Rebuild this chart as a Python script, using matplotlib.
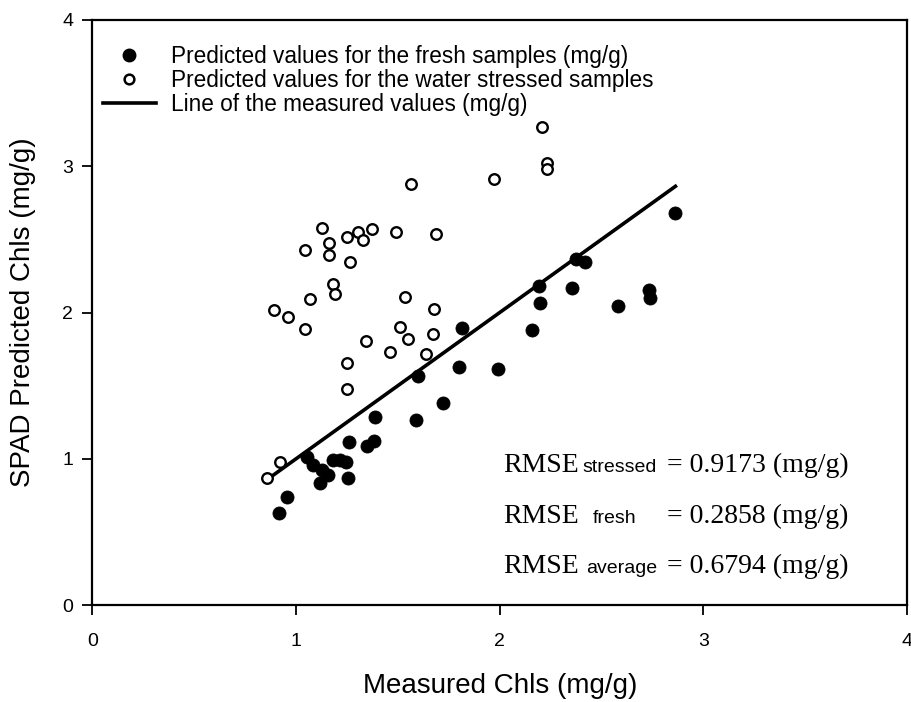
import matplotlib
matplotlib.use("Agg")
import matplotlib.pyplot as plt
from matplotlib.lines import Line2D

# Fresh samples: measured vs SPAD-predicted chlorophyll (mg/g)
fresh_measured = [0.917, 0.957, 1.052, 1.085, 1.126, 1.117, 1.158, 1.183, 1.216, 1.245,
                  1.257, 1.261, 1.347, 1.383, 1.386, 1.587, 1.600, 1.723, 1.800, 1.816,
                  1.993, 2.160, 2.193, 2.200, 2.355, 2.375, 2.419, 2.583, 2.732, 2.740,
                  2.861]
fresh_predicted = [0.627, 0.736, 1.014, 0.957, 0.923, 0.832, 0.889, 0.991, 0.991, 0.980,
                   0.866, 1.112, 1.087, 1.123, 1.288, 1.265, 1.566, 1.383, 1.630, 1.892,
                   1.611, 1.880, 2.183, 2.065, 2.165, 2.364, 2.348, 2.047, 2.154, 2.097,
                   2.678]

# Water-stressed samples
stressed_measured = [1.565, 1.126, 1.042, 1.160, 1.160, 1.250, 1.306, 1.327, 1.373, 1.491,
                     1.689, 1.263, 1.183, 1.193, 1.070, 0.890, 0.959, 1.045, 1.535, 1.679,
                     1.510, 1.548, 1.674, 1.343, 1.463, 1.637, 1.250, 1.250, 0.921, 0.859,
                     2.209, 2.231, 2.231, 1.974]
stressed_predicted = [2.877, 2.580, 2.430, 2.477, 2.393, 2.516, 2.553, 2.496, 2.569, 2.551,
                      2.539, 2.343, 2.195, 2.124, 2.095, 2.019, 1.967, 1.885, 2.104, 2.026,
                      1.901, 1.819, 1.851, 1.805, 1.730, 1.714, 1.652, 1.475, 0.980, 0.866,
                      3.271, 3.020, 2.979, 2.915]

# Reference line y = x over the measured range
line_x = [0.86, 2.87]
line_y = [0.86, 2.87]

ticks = [0, 1, 2, 3, 4]
tick_labels = ["0", "1", "2", "3", "4"]

rmse_names = ["stressed", "fresh", "average"]
rmse_values = [0.9173, 0.2858, 0.6794]

SANS = ["Liberation Sans", "DejaVu Sans"]
SERIF = ["Liberation Serif", "DejaVu Serif"]
plt.rcParams["font.family"] = SANS

fig = plt.figure(figsize=(9.12, 7.02), dpi=100)
ax = fig.add_axes([92.5 / 912, 97 / 702, 814.5 / 912, 585 / 702])

ax.plot(line_x, line_y, color="black", lw=2.6, solid_capstyle="butt", zorder=2)
ax.plot(fresh_measured, fresh_predicted, ls="none", marker="o", ms=9.4,
        mfc="black", mec="black", mew=0.6, zorder=3)
ax.plot(stressed_measured, stressed_predicted, ls="none", marker="o", ms=7.6,
        mfc="white", mec="black", mew=1.7, zorder=3)

ax.set_xlim(0, 4)
ax.set_ylim(0, 4)
ax.set_xticks(ticks)
ax.set_xticklabels(tick_labels)
ax.set_yticks(ticks)
ax.set_yticklabels(tick_labels)
ax.tick_params(direction="out", length=7, width=1.3, labelsize=14,
               top=False, right=False)
ax.tick_params(axis="x", pad=13)
ax.tick_params(axis="y", pad=7)
for sp in ax.spines.values():
    sp.set_linewidth(1.6)

ax.set_xlabel("Measured Chls (mg/g)", fontsize=20, labelpad=17)
ax.set_ylabel("SPAD Predicted Chls (mg/g)", fontsize=20, labelpad=19)

handles = [
    Line2D([], [], ls="none", marker="o", ms=9.0, mfc="black", mec="black"),
    Line2D([], [], ls="none", marker="o", ms=7.0, mfc="white", mec="black", mew=1.8),
    Line2D([], [], color="black", lw=2.6),
]
labels = [
    "Predicted values for the fresh samples (mg/g)",
    "Predicted values for the water stressed samples",
    "Line of the measured values (mg/g)",
]
ax.legend(handles, labels, loc="upper left", bbox_to_anchor=(0.0129, 0.958),
          frameon=False, fontsize=16.3, handlelength=2.33, handletextpad=0.66,
          labelspacing=0.06, borderpad=0, borderaxespad=0)

# RMSE annotations: serif main text, sans subscript
row_y = [0.228, 0.140, 0.0552]
sub_x = [0.602, 0.6145, 0.606]
for name, val, y, sx in zip(rmse_names, rmse_values, row_y, sub_x):
    ax.text(0.504, y, "RMSE", transform=ax.transAxes, fontsize=20,
            family=SERIF, va="baseline", ha="left")
    ax.text(sx, y, name, transform=ax.transAxes, fontsize=14,
            family=SANS, va="baseline", ha="left")
    ax.text(0.7054, y, f"= {val:.4f} (mg/g)", transform=ax.transAxes, fontsize=20,
            family=SERIF, va="baseline", ha="left")

fig.savefig("out.png", dpi=100)
